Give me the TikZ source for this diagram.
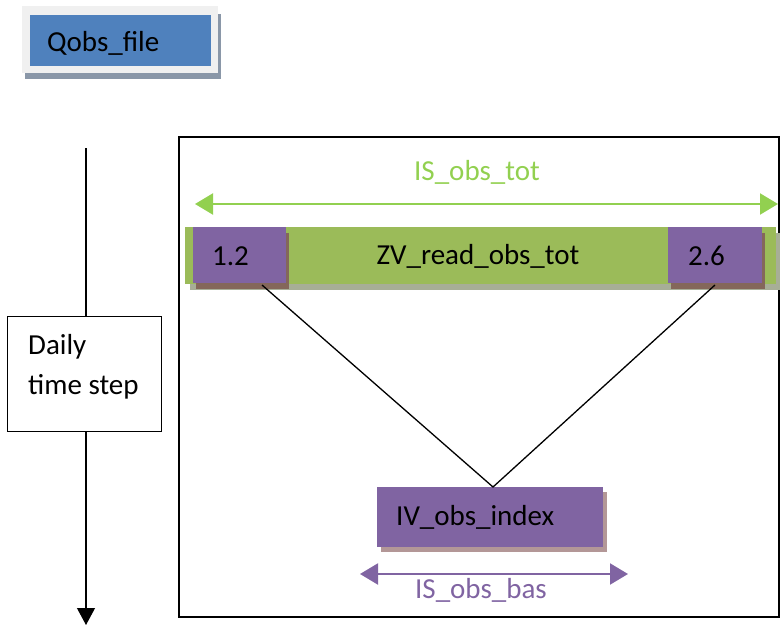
\documentclass[tikz,border=0pt]{standalone}
\usepackage{fontspec}
\setmainfont{Carlito}
\usetikzlibrary{arrows.meta}
\definecolor{fileblue}{HTML}{4F81BD}
\definecolor{bargreen}{HTML}{9BBB59}
\definecolor{boxpurple}{HTML}{8064A2}
\definecolor{lightgreen}{HTML}{92D050}
\definecolor{purpleshadow}{HTML}{84675A}
\definecolor{indexshadow}{HTML}{B39797}
\definecolor{barshadow}{HTML}{A7AE97}
\definecolor{frameshadow}{HTML}{8A97A8}
\tikzset{
  lbl/.style={font=\fontsize{29}{40}\selectfont, inner sep=0pt},
  pbox/.style={fill=boxpurple, draw=none},
  span/.style={line width=2pt, {Triangle[length=18pt,width=21pt]}-{Triangle[length=18pt,width=21pt]}},
}
\begin{document}
\begin{tikzpicture}[x=1pt,y=-1pt]
\useasboundingbox (0,0) rectangle (780,626);
% input file box
\fill[frameshadow] (25,14) rectangle (221,79);
\fill[gray!12] (22,6) rectangle (218,73);
\fill[fileblue] (30,15) rectangle (211,66);
\node[lbl, anchor=west] (qobs) at (47,43) {Qobs\_file};
% enclosing frame
\draw[line width=1.3pt] (179,137) rectangle (779,617);
% time axis
\node[draw, line width=1pt, minimum width=154pt, minimum height=115pt, inner sep=0pt] (daily) at (84,373.5) {};
\node[lbl, anchor=west, align=left] at (28,367) {Daily\\time step};
\coordinate (ttop) at (86,148);
\coordinate (tbot) at (86,625);
\draw[line width=1.2pt] (ttop) -- (daily.north -| ttop);
\draw[line width=1.2pt, -{Triangle[length=17pt,width=18pt]}] (daily.south -| ttop) -- (tbot);
% total observation span
\coordinate (tl) at (195,204);
\coordinate (tr) at (778,204);
\draw[span, draw=lightgreen, fill=lightgreen] (tl) -- (tr);
\node[lbl, text=lightgreen] (istot) at (477,172) {IS\_obs\_tot};
% read buffer
\fill[barshadow] (190,233) rectangle (780,290);
\fill[bargreen] (185,227) rectangle (776,284);
\node[lbl] (zv) at (478,256) {ZV\_read\_obs\_tot};
\fill[purpleshadow] (196,233) rectangle (289,289);
\fill[pbox] (193,227) rectangle (286,283);
\node[lbl, anchor=west] (a) at (212,256) {1.2};
\fill[purpleshadow] (671,233) rectangle (765,289);
\fill[pbox] (668,227) rectangle (762,283);
\node[lbl, anchor=west] (b) at (688,256) {2.6};
\coordinate (al) at (262,285);
\coordinate (bl) at (715,285);
% index box
\fill[indexshadow] (381,492) rectangle (607,552);
\fill[pbox] (377,487) rectangle (603,547);
\node[lbl, anchor=west] (iv) at (396,517) {IV\_obs\_index};
\coordinate (ivtop) at (493,487);
\draw[line width=1.3pt] (al) -- (ivtop) -- (bl);
% basin span
\coordinate (bsl) at (360,574);
\coordinate (bsr) at (628,574);
\draw[span, draw=boxpurple, fill=boxpurple] (bsl) -- (bsr);
\node[lbl, text=boxpurple] (isbas) at (481,590) {IS\_obs\_bas};
\end{tikzpicture}
\end{document}
